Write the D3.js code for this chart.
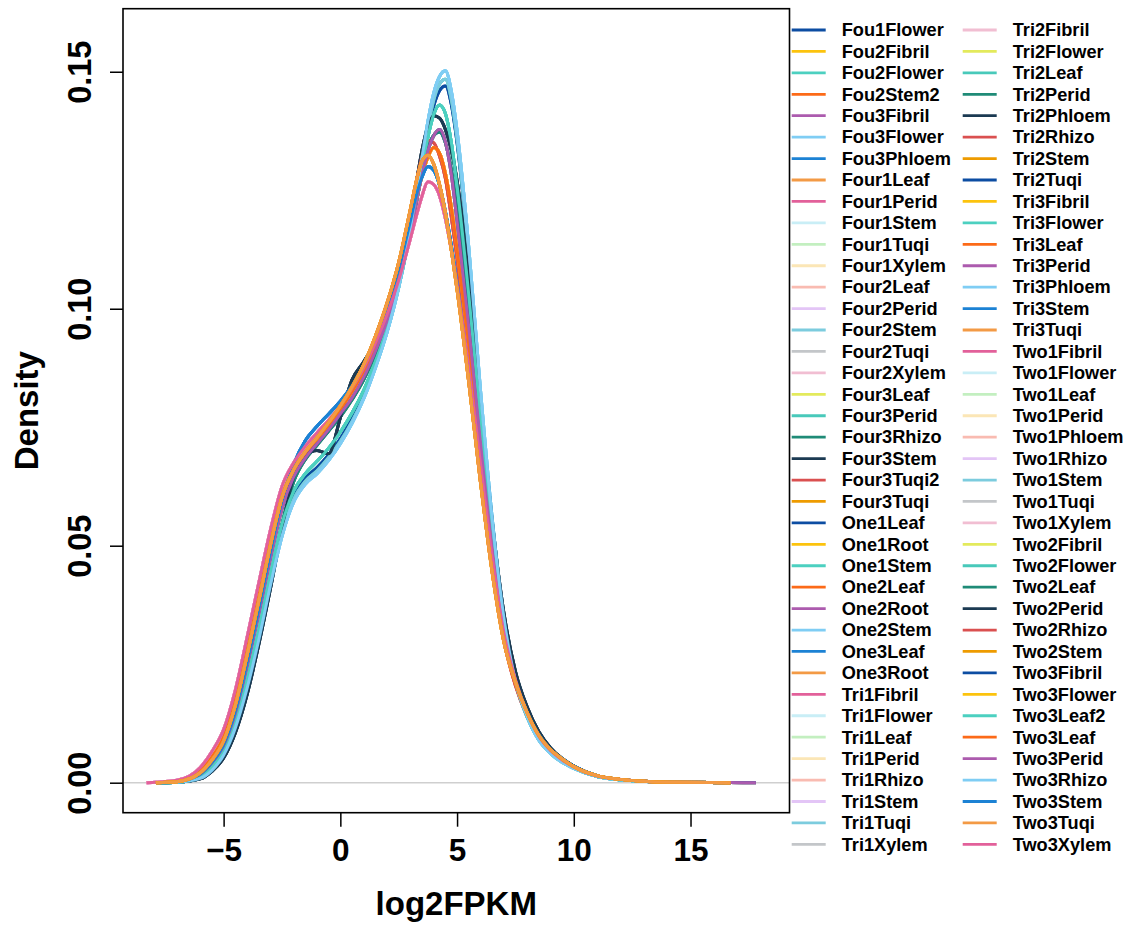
<!DOCTYPE html>
<html>
<head>
<meta charset="utf-8">
<script src="https://cdn.jsdelivr.net/npm/d3@7"></script>
<style>
  body { margin: 0; background: #fff; }
  text { font-family: "Liberation Sans", Arial, sans-serif; font-weight: bold; }
</style>
</head>
<body>
<div id="chart"></div>
<script>
// Density curves of log2FPKM, one per sample

// Sample names, in legend order
const sampleNames = [
  "Fou1Flower", "Fou2Fibril", "Fou2Flower", "Fou2Stem2", "Fou3Fibril", "Fou3Flower", "Fou3Phloem",
  "Four1Leaf", "Four1Perid", "Four1Stem", "Four1Tuqi", "Four1Xylem", "Four2Leaf", "Four2Perid",
  "Four2Stem", "Four2Tuqi", "Four2Xylem", "Four3Leaf", "Four3Perid", "Four3Rhizo", "Four3Stem",
  "Four3Tuqi2", "Four3Tuqi", "One1Leaf", "One1Root", "One1Stem", "One2Leaf", "One2Root",
  "One2Stem", "One3Leaf", "One3Root", "Tri1Fibril", "Tri1Flower", "Tri1Leaf", "Tri1Perid",
  "Tri1Rhizo", "Tri1Stem", "Tri1Tuqi", "Tri1Xylem", "Tri2Fibril", "Tri2Flower", "Tri2Leaf",
  "Tri2Perid", "Tri2Phloem", "Tri2Rhizo", "Tri2Stem", "Tri2Tuqi", "Tri3Fibril", "Tri3Flower",
  "Tri3Leaf", "Tri3Perid", "Tri3Phloem", "Tri3Stem", "Tri3Tuqi", "Two1Fibril", "Two1Flower",
  "Two1Leaf", "Two1Perid", "Two1Phloem", "Two1Rhizo", "Two1Stem", "Two1Tuqi", "Two1Xylem",
  "Two2Fibril", "Two2Flower", "Two2Leaf", "Two2Perid", "Two2Rhizo", "Two2Stem", "Two3Fibril",
  "Two3Flower", "Two3Leaf2", "Two3Leaf", "Two3Perid", "Two3Rhizo", "Two3Stem", "Two3Tuqi", "Two3Xylem"
]

// Which curve shape each sample follows
const sampleProfile = [
  "HI3", "MIDB", "HI2", "MIDB", "MID", "HI1", "BL",
  "OR", "PK", "MID", "MID", "MID", "MID", "PK",
  "HI2", "MIDB", "PK", "MIDB", "T1", "DT", "NV",
  "RD", "OR", "MID", "MIDB", "T1", "MIDB", "MIDB",
  "HI1", "BL", "OR", "PK", "MID", "MID", "MID",
  "MID", "PK", "HI1", "MIDB", "PK", "MIDB", "T1",
  "DT", "NV", "RD", "OR", "HI3", "MIDB", "HI2",
  "MIDB", "MID", "HI1", "BL", "OR", "PK", "MID",
  "MID", "MID", "MID", "MIDB", "HI2", "MIDB", "PK",
  "MIDB", "T1", "DT", "NV", "RD", "OR", "MID",
  "MIDB", "T1", "MIDB", "MID", "HI1", "BL", "OR", "PK"
]

// log2FPKM positions at which the density curves were read
const xGrid = [
  -8.3, -7.9, -7, -6, -5.5, -5, -4.5, -4, -3.5, -3,
  -2.5, -2, -1.5, -1, -0.5, 0, 0.5, 1, 1.5, 2,
  2.5, 3, 3.25, 3.5, 3.75, 4, 4.25, 4.5, 4.75, 5,
  5.5, 6, 6.5, 7, 7.5, 8, 8.5, 9, 9.5, 10,
  11, 12, 13, 14, 16.7, 17.8
]

// density values on xGrid (null = outside that curve's range)
const HI1 = [
  null, 0, 0.0001, 0.0009, 0.0026, 0.0058, 0.0115, 0.0198, 0.0300, 0.0415,
  0.0520, 0.0592, 0.0630, 0.0652, 0.0680, 0.0715, 0.0758, 0.0810, 0.0875, 0.0950,
  0.1045, 0.1170, 0.1245, 0.1320, 0.1395, 0.1455, 0.1490, 0.1502, 0.1460, 0.1375,
  0.1130, 0.0830, 0.0560, 0.0350, 0.0215, 0.0140, 0.0090, 0.0062, 0.0043, 0.0030,
  0.0013, 0.0006, 0.0003, 0.0001, 0, null
]
const HI2 = [
  null, 0, 0.0001, 0.0010, 0.0028, 0.0060, 0.0118, 0.0202, 0.0305, 0.0420,
  0.0526, 0.0598, 0.0636, 0.0658, 0.0686, 0.0720, 0.0762, 0.0813, 0.0877, 0.0952,
  0.1045, 0.1165, 0.1238, 0.1310, 0.1382, 0.1440, 0.1474, 0.1484, 0.1442, 0.1358,
  0.1115, 0.0818, 0.0550, 0.0345, 0.0212, 0.0138, 0.0090, 0.0062, 0.0043, 0.0030,
  0.0013, 0.0006, 0.0003, 0.0001, 0, null
]
const HI3 = [
  null, 0, 0.0001, 0.0011, 0.0030, 0.0063, 0.0122, 0.0208, 0.0312, 0.0428,
  0.0535, 0.0605, 0.0642, 0.0665, 0.0692, 0.0726, 0.0768, 0.0818, 0.0880, 0.0955,
  0.1048, 0.1165, 0.1235, 0.1305, 0.1375, 0.1428, 0.1460, 0.1470, 0.1432, 0.1350,
  0.1110, 0.0815, 0.0550, 0.0345, 0.0215, 0.0142, 0.0093, 0.0064, 0.0045, 0.0031,
  0.0013, 0.0006, 0.0003, 0.0001, 0, null
]
const T1 = [
  null, 0, 0.0001, 0.0012, 0.0032, 0.0066, 0.0127, 0.0215, 0.0320, 0.0437,
  0.0545, 0.0615, 0.0652, 0.0678, 0.0706, 0.0740, 0.0780, 0.0828, 0.0888, 0.0960,
  0.1050, 0.1165, 0.1232, 0.1298, 0.1362, 0.1410, 0.1430, 0.1412, 0.1352, 0.1260,
  0.1030, 0.0770, 0.0525, 0.0335, 0.0212, 0.0140, 0.0093, 0.0064, 0.0045, 0.0031,
  0.0013, 0.0006, 0.0003, 0.0001, 0, null
]
const NV = [
  null, 0, 0.0001, 0.0008, 0.0024, 0.0052, 0.0105, 0.0185, 0.0290, 0.0408,
  0.0535, 0.0645, 0.0690, 0.0701, 0.0694, 0.0770, 0.0850, 0.0888, 0.0930, 0.0988,
  0.1075, 0.1195, 0.1265, 0.1335, 0.1385, 0.1407, 0.1402, 0.1378, 0.1335, 0.1270,
  0.1065, 0.0805, 0.0555, 0.0360, 0.0235, 0.0160, 0.0108, 0.0074, 0.0051, 0.0035,
  0.0015, 0.0007, 0.0003, 0.0001, 0, null
]
const DT = [
  null, 0, 0.0001, 0.0009, 0.0026, 0.0056, 0.0110, 0.0195, 0.0302, 0.0422,
  0.0545, 0.0635, 0.0682, 0.0712, 0.0742, 0.0772, 0.0808, 0.0850, 0.0905, 0.0970,
  0.1052, 0.1160, 0.1222, 0.1285, 0.1338, 0.1366, 0.1373, 0.1350, 0.1295, 0.1205,
  0.0995, 0.0750, 0.0520, 0.0338, 0.0228, 0.0155, 0.0105, 0.0072, 0.0050, 0.0034,
  0.0015, 0.0007, 0.0003, 0.0001, 0, null
]
const MID = [
  null, 0, 0.0002, 0.0018, 0.0042, 0.0078, 0.0145, 0.0245, 0.0355, 0.0472,
  0.0578, 0.0645, 0.0685, 0.0715, 0.0745, 0.0778, 0.0812, 0.0855, 0.0910, 0.0975,
  0.1058, 0.1165, 0.1225, 0.1283, 0.1333, 0.1365, 0.1378, 0.1352, 0.1285, 0.1185,
  0.0962, 0.0718, 0.0495, 0.0320, 0.0215, 0.0145, 0.0098, 0.0068, 0.0048, 0.0032,
  0.0014, 0.0007, 0.0003, 0.0001, 0.00003, 0
]
const MIDB = [
  null, 0, 0.0003, 0.0025, 0.0054, 0.0097, 0.0175, 0.0280, 0.0392, 0.0508,
  0.0605, 0.0662, 0.0698, 0.0725, 0.0755, 0.0788, 0.0825, 0.0868, 0.0922, 0.0985,
  0.1065, 0.1170, 0.1228, 0.1282, 0.1320, 0.1340, 0.1328, 0.1285, 0.1215, 0.1125,
  0.0925, 0.0698, 0.0488, 0.0318, 0.0212, 0.0142, 0.0095, 0.0066, 0.0047, 0.0032,
  0.0014, 0.0007, 0.0003, 0.0001, 0, null
]
const RD = [
  null, 0, 0.0002, 0.0020, 0.0046, 0.0085, 0.0158, 0.0262, 0.0375, 0.0492,
  0.0595, 0.0655, 0.0692, 0.0722, 0.0755, 0.0790, 0.0828, 0.0875, 0.0935, 0.1005,
  0.1092, 0.1205, 0.1268, 0.1322, 0.1355, 0.1350, 0.1322, 0.1275, 0.1195, 0.1105,
  0.0885, 0.0655, 0.0455, 0.0300, 0.0205, 0.0140, 0.0095, 0.0066, 0.0047, 0.0032,
  0.0014, 0.0007, 0.0003, 0.0001, 0, null
]
const OR = [
  null, 0, 0.0002, 0.0021, 0.0048, 0.0088, 0.0163, 0.0268, 0.0382, 0.0500,
  0.0602, 0.0660, 0.0698, 0.0728, 0.0760, 0.0795, 0.0835, 0.0882, 0.0942, 0.1012,
  0.1098, 0.1210, 0.1268, 0.1312, 0.1324, 0.1305, 0.1262, 0.1202, 0.1125, 0.1040,
  0.0845, 0.0635, 0.0445, 0.0298, 0.0212, 0.0148, 0.0100, 0.0070, 0.0050, 0.0034,
  0.0015, 0.0007, 0.0003, 0.0001, 0, null
]
const BL = [
  null, 0, 0.0002, 0.0018, 0.0043, 0.0080, 0.0150, 0.0252, 0.0365, 0.0485,
  0.0595, 0.0672, 0.0722, 0.0752, 0.0778, 0.0805, 0.0838, 0.0880, 0.0935, 0.1000,
  0.1082, 0.1185, 0.1238, 0.1278, 0.1300, 0.1292, 0.1260, 0.1205, 0.1135, 0.1055,
  0.0868, 0.0658, 0.0462, 0.0308, 0.0215, 0.0150, 0.0102, 0.0071, 0.0051, 0.0035,
  0.0015, 0.0007, 0.0003, 0.0001, 0, null
]
const PK = [
  0, 0.0001, 0.0005, 0.0032, 0.0066, 0.0112, 0.0195, 0.0305, 0.0420, 0.0532,
  0.0625, 0.0675, 0.0710, 0.0738, 0.0765, 0.0795, 0.0832, 0.0875, 0.0928, 0.0988,
  0.1060, 0.1148, 0.1195, 0.1238, 0.1268, 0.1262, 0.1238, 0.1190, 0.1125, 0.1050,
  0.0875, 0.0675, 0.0478, 0.0318, 0.0218, 0.0148, 0.0098, 0.0068, 0.0048, 0.0033,
  0.0014, 0.0007, 0.0003, 0.0001, 0, null
]

// axis limits and ticks
const xLimits = [-9.31, 19.24]
const yLimits = [-0.00633, 0.1633]
const xTicks = [-5, 0, 5, 10, 15]
const yTicks = [0, 0.05, 0.10, 0.15]

// colour cycle used for the samples
const palette = [
  "#0c4da2", "#fcc30d", "#4cd0c0", "#fc6a18", "#ac5bae", "#7fcdf4", "#1c82d4", "#f39a45",
  "#e2609a", "#c9eef6", "#c3efc0", "#fbe6b6", "#f9bbb1", "#e3c5f6", "#7cccde", "#c3c6c9",
  "#f1bed2", "#e3ea5c", "#48c9ba", "#1f8b77", "#1b3a52", "#da5050", "#ee9b00"
]

const profiles = { HI1, HI2, HI3, T1, NV, DT, MID, MIDB, RD, OR, BL, PK }

let width = 1131,
    height = 926,
    box = { left: 123, right: 789.5, top: 8.7, bottom: 812.7 }

let svg = d3.select("#chart").append("svg")
    .attr("width", width)
    .attr("height", height)
    .style("background", "#fff")

let x = d3.scaleLinear().domain(xLimits).range([box.left, box.right])
let y = d3.scaleLinear().domain(yLimits).range([box.bottom, box.top])

// gray zero line
svg.append("line")
    .attr("x1", box.left).attr("x2", box.right)
    .attr("y1", y(0)).attr("y2", y(0))
    .attr("stroke", "#cfcfcf")
    .attr("stroke-width", 1.6)

// density curves
let line = d3.line()
    .defined(d => d[1] != null)
    .x(d => x(d[0]))
    .y(d => y(d[1]))
    .curve(d3.curveMonotoneX)

let series = sampleNames.map((name, i) => ({
  name: name,
  profile: sampleProfile[i],
  color: palette[i % palette.length],
  points: xGrid.map((gx, j) => [gx, profiles[sampleProfile[i]][j]])
}))

// orange curves sit on top of the bundle in the original
let drawOrder = series.filter(d => d.profile !== "OR")
    .concat(series.filter(d => d.profile === "OR"))

svg.append("g")
    .attr("class", "curves")
  .selectAll("path")
  .data(drawOrder)
  .enter().append("path")
    .attr("d", d => line(d.points))
    .attr("fill", "none")
    .attr("stroke", d => d.color)
    .attr("stroke-width", 3)
    .attr("stroke-linejoin", "round")

// box
svg.append("rect")
    .attr("x", box.left).attr("y", box.top)
    .attr("width", box.right - box.left)
    .attr("height", box.bottom - box.top)
    .attr("fill", "none")
    .attr("stroke", "#000")
    .attr("stroke-width", 1.6)

// x axis
let gx = svg.append("g")
    .attr("transform", `translate(0,${box.bottom})`)
    .call(d3.axisBottom(x)
      .tickValues(xTicks)
      .tickSize(14)
      .tickFormat(d => d < 0 ? "\u2212" + Math.abs(d) : d))
gx.select(".domain").remove()
gx.selectAll("line").attr("stroke", "#000").attr("stroke-width", 1.5)
gx.selectAll("text")
    .attr("y", 48.8)
    .attr("dy", null)
    .attr("fill", "#000")
    .style("font-size", "31.5px")

// y axis, labels turned like R's default
let gy = svg.append("g")
    .attr("transform", `translate(${box.left},0)`)
    .call(d3.axisLeft(y)
      .tickValues(yTicks)
      .tickSize(13)
      .tickFormat(d3.format(".2f")))
gy.select(".domain").remove()
gy.selectAll("line").attr("stroke", "#000").attr("stroke-width", 1.5)
gy.selectAll("text")
    .attr("x", null)
    .attr("dy", null)
    .attr("text-anchor", "middle")
    .attr("transform", "translate(-32.3,0) rotate(-90)")
    .attr("fill", "#000")
    .style("font-size", "32.5px")

// axis titles
svg.append("text")
    .attr("x", (box.left + box.right) / 2)
    .attr("y", 915)
    .attr("text-anchor", "middle")
    .style("font-size", "33px")
    .text("log2FPKM")

svg.append("text")
    .attr("transform", `translate(38,${(box.top + box.bottom) / 2}) rotate(-90)`)
    .attr("text-anchor", "middle")
    .style("font-size", "33px")
    .text("Density")

// legend, two columns
let perCol = Math.ceil(sampleNames.length / 2),
    rowGap = 21.43

let legend = svg.append("g").attr("class", "legend")
let items = legend.selectAll("g")
  .data(series)
  .enter().append("g")
    .attr("transform", (d, i) => {
      let col = Math.floor(i / perCol), row = i % perCol
      return `translate(${col === 0 ? 791.7 : 962.7},${30 + row * rowGap})`
    })

items.append("line")
    .attr("x1", 0).attr("x2", 34)
    .attr("stroke", d => d.color)
    .attr("stroke-width", 2.8)

items.append("text")
    .attr("x", 50)
    .attr("y", 6.3)
    .style("font-size", "18.2px")
    .text(d => d.name)
</script>
</body>
</html>
